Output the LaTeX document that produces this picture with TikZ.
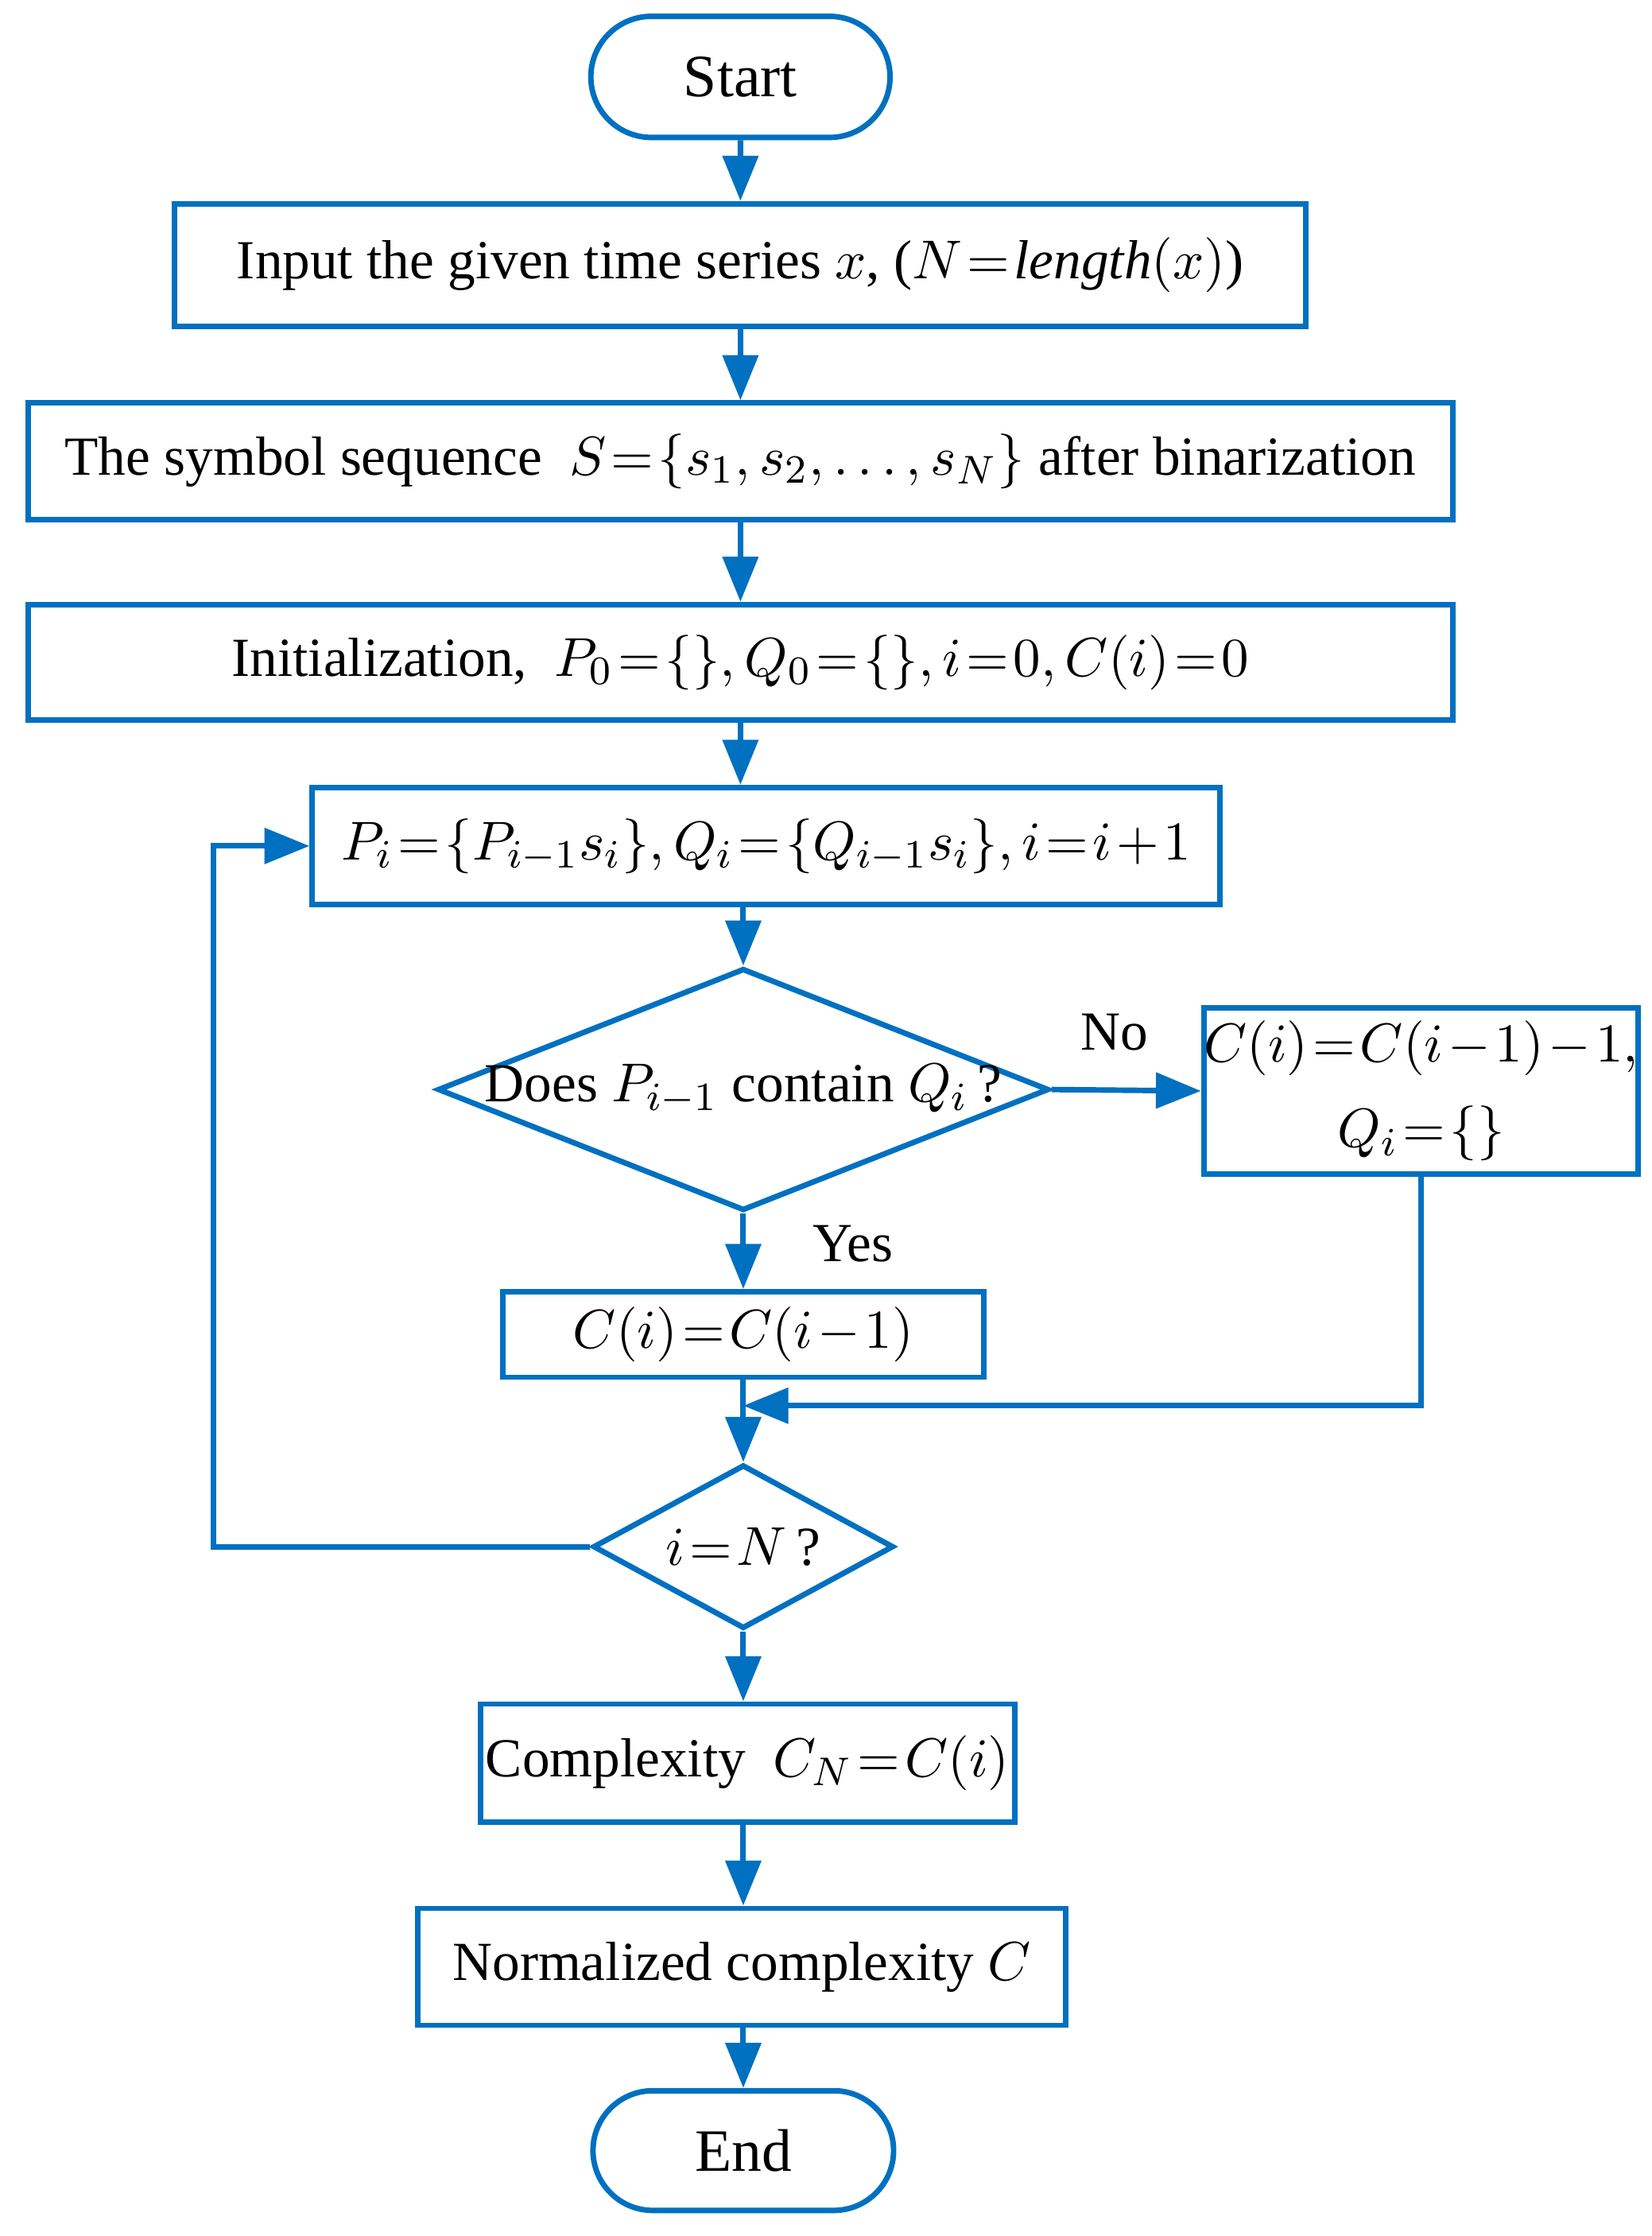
\documentclass[tikz,border=0pt]{standalone}
\usepackage{fontspec}
\setmainfont{Liberation Serif}
\usetikzlibrary{shapes.geometric,shapes.misc,arrows.meta}
\definecolor{fb}{HTML}{0070C0}
\thickmuskip=1.5mu plus 1mu
\medmuskip=1.5mu plus 1mu
\begin{document}
\begin{tikzpicture}[x=0.01cm,y=-0.01cm,
  every node/.style={font=\fontsize{11}{13}\selectfont},
  box/.style={draw=fb,line width=1.1pt,rectangle,inner sep=0pt},
  term/.style={draw=fb,line width=1.1pt,rounded rectangle,inner sep=0pt},
  dia/.style={draw=fb,line width=1.1pt,diamond,aspect=2.5,inner sep=0pt},
  ar/.style={draw=fb,line width=1.1pt,-{Triangle[length=9pt,width=7pt]}},
  ln/.style={draw=fb,line width=1.1pt}]
\useasboundingbox (0,0) rectangle (1160,1570);
\node[term,minimum width=2.1cm,minimum height=0.85cm,font=\fontsize{12}{14}\selectfont] (start) at (520,54) {Start};
\node[box,minimum width=7.94cm,minimum height=0.86cm] (in) at (520,186) {Input the given time series $x$, ($N=\mathit{length}(x)$)};
\node[box,minimum width=10cm,minimum height=0.82cm] (sym) at (520,324) {The symbol sequence \ $S=\{s_1,s_2,\ldots,s_N\}$ after binarization};
\node[box,minimum width=10cm,minimum height=0.81cm] (init) at (520,465) {Initialization,\ \ $P_0=\{\},Q_0=\{\},i=0,C(i)=0$};
\node[box,minimum width=6.37cm,minimum height=0.82cm] (p) at (538,594) {$P_i=\{P_{i-1}s_i\},Q_i=\{Q_{i-1}s_i\},i=i+1$};
\node[dia,minimum width=4.29cm,minimum height=1.7cm] (d1) at (522,765) {};
\node at (522,765) {Does $P_{i-1}$ contain $Q_i$\,?};
\node[box,minimum width=2.85cm,minimum height=1.17cm,align=center] (cm) at (998,766) {$C(i)=C(i-1)-1,$\\[4pt]$Q_i=\{\}$};
\node[box,minimum width=3.38cm,minimum height=0.6cm] (c1) at (522,937) {$C(i)=C(i-1)$};
\coordinate (m) at (522,987);
\node[dia,minimum width=2.11cm,minimum height=1.15cm] (d2) at (522,1086) {};
\node at (522,1086) {$i=N$\,?};
\node[box,minimum width=3.75cm,minimum height=0.83cm] (cx) at (525,1238) {Complexity\ \ $C_N=C(i)$};
\node[box,minimum width=4.55cm,minimum height=0.82cm] (nc) at (521,1381) {Normalized complexity $C$};
\node[term,minimum width=2.11cm,minimum height=0.84cm,font=\fontsize{12}{14}\selectfont] (end) at (522,1510) {End};
\coordinate (lb) at (150,1086);
\coordinate (lt) at (150,594);
\draw[ar] (start) -- (start|-in.north);
\draw[ar] (in.south-|start) -- (start|-sym.north);
\draw[ar] (sym.south-|start) -- (start|-init.north);
\draw[ar] (init.south-|start) -- (start|-p.north);
\draw[ar] (p.south-|d1) -- (d1.north);
\draw[ar] (d1.east) -- node[above=4pt,pos=0.42]{No} (cm.west);
\draw[ar] (d1.south) -- node[right=10pt,pos=0.4]{Yes} (c1.north);
\draw[ln] (c1.south) -- (m);
\draw[ar] (cm.south) |- (m);
\draw[ar] (m) -- (d2.north);
\draw[ar] (d2.west) -- (lb) -- (lt) -- (p.west);
\draw[ar] (d2.south) -- (d2|-cx.north);
\draw[ar] (cx.south-|d2) -- (d2|-nc.north);
\draw[ar] (nc.south-|d2) -- (end.north);
\end{tikzpicture}
\end{document}
